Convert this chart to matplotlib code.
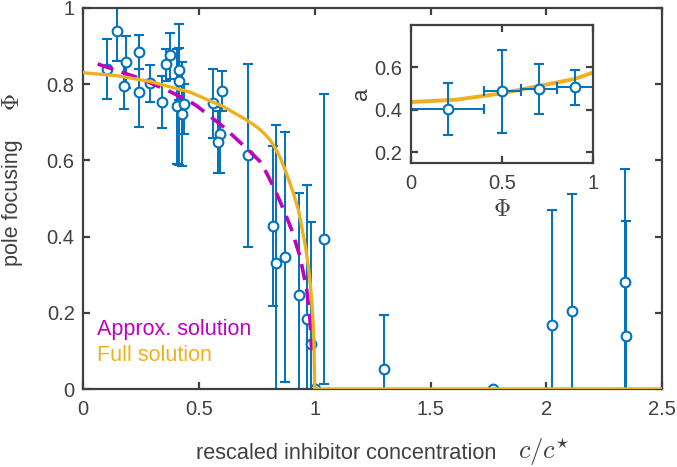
import matplotlib.pyplot as plt

plt.rcParams['font.family'] = ['Liberation Sans', 'DejaVu Sans']
plt.rcParams['mathtext.fontset'] = 'cm'

BLUE = '#0072BD'
ORANGE = '#EDB120'
MAGENTA = '#BF00BF'
GREY = '#404040'

# measured points: c/c*, Phi, lower and upper error-bar ends
c_data = [0.105, 0.147, 0.186, 0.179, 0.243, 0.243, 0.289, 0.343, 0.358, 0.376,
          0.407, 0.414, 0.416, 0.429, 0.435, 0.560, 0.599, 0.592, 0.581, 0.714,
          0.822, 0.833, 0.872, 0.931, 0.966, 0.983, 1.002, 1.041,
          1.300, 1.770, 2.024, 2.110, 2.340, 2.345]
phi_data = [0.840, 0.940, 0.859, 0.796, 0.884, 0.779, 0.802, 0.753, 0.852, 0.876,
            0.743, 0.837, 0.809, 0.721, 0.747, 0.750, 0.783, 0.669, 0.648, 0.614,
            0.428, 0.331, 0.347, 0.248, 0.185, 0.118, 0.000, 0.394,
            0.052, 0.000, 0.167, 0.205, 0.280, 0.139]
phi_low = [0.762, 0.861, 0.790, 0.735, 0.840, 0.688, 0.754, 0.684, 0.808, 0.813,
           0.591, 0.759, 0.588, 0.586, 0.670, 0.658, 0.730, 0.566, 0.566, 0.373,
           0.219, 0.000, 0.019, 0.000, 0.000, 0.000, 0.000, 0.013,
           0.000, 0.000, 0.000, 0.000, 0.000, 0.000]
phi_high = [0.918, 1.050, 0.927, 0.861, 0.929, 0.840, 0.850, 0.822, 0.892, 0.935,
            0.892, 0.958, 0.894, 0.857, 0.800, 0.839, 0.835, 0.740, 0.730, 0.853,
            0.638, 0.693, 0.675, 0.514, 0.535, 0.437, 0.000, 0.774,
            0.195, 0.000, 0.470, 0.512, 0.577, 0.442]

# theory curves
c_approx = [0.063, 0.246, 0.361, 0.462, 0.491, 0.606, 0.714, 0.764, 0.793, 0.829,
            0.870, 0.901, 0.937, 0.966, 0.980, 0.987]
phi_approx = [0.853, 0.815, 0.785, 0.754, 0.743, 0.688, 0.627, 0.597, 0.566, 0.522,
              0.465, 0.417, 0.347, 0.260, 0.181, 0.102]
c_full = [0.0, 0.15, 0.289, 0.462, 0.606, 0.70, 0.75, 0.78, 0.807, 0.830, 0.852,
          0.872, 0.890, 0.908, 0.930, 0.944, 0.960, 0.973, 0.982, 0.987, 0.993,
          0.997, 1.0, 2.5]
phi_full = [0.830, 0.822, 0.807, 0.779, 0.741, 0.708, 0.688, 0.672, 0.654, 0.632,
            0.606, 0.575, 0.546, 0.514, 0.470, 0.426, 0.375, 0.321, 0.270, 0.234,
            0.180, 0.120, 0.0, 0.0]

# inset: a vs Phi
phi_in = [0.203, 0.503, 0.704, 0.903]
a_in = [0.405, 0.491, 0.499, 0.509]
a_low = [0.280, 0.291, 0.379, 0.423]
a_high = [0.528, 0.684, 0.616, 0.589]
phi_in_err = [0.2, 0.1, 0.1, 0.1]
phi_curve = [0.0, 0.25, 0.5, 0.7, 0.9, 1.0]
a_curve = [0.437, 0.448, 0.478, 0.512, 0.546, 0.576]


def style_axes(ax):
    for s in ax.spines.values():
        s.set_color(GREY)
        s.set_linewidth(1.6)
    ax.tick_params(direction='in', top=True, right=True, color=GREY,
                   labelcolor=GREY, labelsize=14.5, width=1.6, length=5)
    ax.tick_params(axis='x', pad=8)
    ax.tick_params(axis='y', pad=6)


fig = plt.figure(figsize=(6.77, 4.67), dpi=100)
ax = fig.add_axes([0.1226, 0.167, 0.8555, 0.816])

yerr = [[p - l for p, l in zip(phi_data, phi_low)],
        [h - p for p, h in zip(phi_data, phi_high)]]
ax.errorbar(c_data, phi_data, yerr=yerr, fmt='o', color=BLUE, ecolor=BLUE,
            elinewidth=1.4, capsize=3.5, capthick=1.4, ms=7, mfc='white',
            mec=BLUE, mew=1.5, zorder=2)
ax.plot(c_approx, phi_approx, color=MAGENTA, lw=2.6, dashes=(4.5, 2.5), zorder=3)
ax.plot(c_full, phi_full, color=ORANGE, lw=2.4, zorder=4)

ax.set_xlim(0, 2.5)
ax.set_ylim(0, 1)
ax.set_xticks([0, 0.5, 1, 1.5, 2, 2.5])
ax.set_xticklabels(['0', '0.5', '1', '1.5', '2', '2.5'])
ax.set_yticks([0, 0.2, 0.4, 0.6, 0.8, 1])
ax.set_yticklabels(['0', '0.2', '0.4', '0.6', '0.8', '1'])
style_axes(ax)

# axis labels placed as in the original (text + serif math symbol)
fig.text(0.29, 0.028, 'rescaled inhibitor concentration', fontsize=15.7,
         color=GREY, ha='left', va='center')
fig.text(0.765, 0.032, r'$c/c^{\star}$', fontsize=19, color=GREY,
         ha='left', va='center')
fig.text(0.019, 0.567, 'pole focusing', fontsize=15.5, color=GREY, rotation=90,
         ha='center', va='center')
fig.text(0.019, 0.782, r'$\Phi$', fontsize=17, color=GREY, rotation=90,
         ha='center', va='center')

ax.text(0.025, 0.157, 'Approx. solution', color=MAGENTA, fontsize=15.5,
        transform=ax.transAxes, va='center')
ax.text(0.025, 0.087, 'Full solution', color=ORANGE, fontsize=15.5,
        transform=ax.transAxes, va='center')

ins = fig.add_axes([0.6066, 0.651, 0.2693, 0.2955])
ins.plot(phi_curve, a_curve, color=ORANGE, lw=2.8, zorder=1)
ins_yerr = [[a - l for a, l in zip(a_in, a_low)],
            [h - a for a, h in zip(a_in, a_high)]]
ins.errorbar(phi_in, a_in, xerr=phi_in_err, yerr=ins_yerr, fmt='o', color=BLUE,
             ecolor=BLUE, elinewidth=1.4, capsize=3.5, capthick=1.4, ms=7,
             mfc='white', mec=BLUE, mew=1.5, zorder=2)
ins.set_xlim(0, 1)
ins.set_ylim(0.15, 0.8)
ins.set_xticks([0, 0.5, 1])
ins.set_xticklabels(['0', '0.5', '1'])
ins.set_yticks([0.2, 0.4, 0.6])
ins.set_yticklabels(['0.2', '0.4', '0.6'])
style_axes(ins)
ins.set_xlabel(r'$\Phi$', fontsize=17, color=GREY, labelpad=4)
ins.set_ylabel('a', fontsize=16, color=GREY, labelpad=2)

fig.savefig('out.png', dpi=100)
